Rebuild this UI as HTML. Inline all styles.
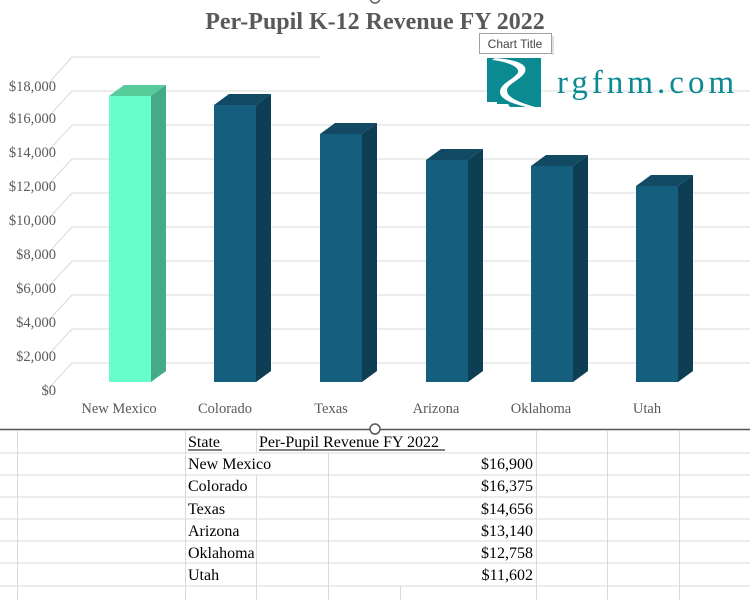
<!DOCTYPE html>
<html><head><meta charset="utf-8"><style>
body{margin:0;background:#fff;}
svg{display:block;}
</style></head><body>
<svg width="750" height="600" viewBox="0 0 750 600" xmlns="http://www.w3.org/2000/svg" font-family="'Liberation Serif', serif">
<rect width="750" height="600" fill="#fff"/>
<g stroke="#d9d9d9" stroke-width="1" fill="none">
<path d="M47 390 L72 363 L750 363"/>
<path d="M47 356 L72 329 L750 329"/>
<path d="M47 322 L72 295 L750 295"/>
<path d="M47 288 L72 261 L750 261"/>
<path d="M47 254 L72 227 L750 227"/>
<path d="M47 220 L72 193 L750 193"/>
<path d="M47 186 L72 159 L750 159"/>
<path d="M47 152 L72 125 L750 125"/>
<path d="M47 118 L72 91 L750 91"/>
<path d="M47 85 L72 57 L320 57"/>
</g>
<g font-size="14.5" fill="#595959" text-anchor="end">
<text x="56" y="395">$0</text>
<text x="56" y="361">$2,000</text>
<text x="56" y="327">$4,000</text>
<text x="56" y="293">$6,000</text>
<text x="56" y="259">$8,000</text>
<text x="56" y="225">$10,000</text>
<text x="56" y="191">$12,000</text>
<text x="56" y="157">$14,000</text>
<text x="56" y="123">$16,000</text>
<text x="56" y="91">$18,000</text>
</g>
<g>
<polygon points="109,96 124,85 166,85 151,96" fill="#55cc99"/>
<polygon points="151,96 166,85 166,371 151,382" fill="#44aa88"/>
<rect x="109" y="96" width="42" height="286" fill="#66ffcc"/>
<polygon points="214,105 229,94 271,94 256,105" fill="#124a64"/>
<polygon points="256,105 271,94 271,371 256,382" fill="#0e3e54"/>
<rect x="214" y="105" width="42" height="277" fill="#165e7e"/>
<polygon points="320,134 335,123 377,123 362,134" fill="#124a64"/>
<polygon points="362,134 377,123 377,371 362,382" fill="#0e3e54"/>
<rect x="320" y="134" width="42" height="248" fill="#165e7e"/>
<polygon points="426,160 441,149 483,149 468,160" fill="#124a64"/>
<polygon points="468,160 483,149 483,371 468,382" fill="#0e3e54"/>
<rect x="426" y="160" width="42" height="222" fill="#165e7e"/>
<polygon points="531,166 546,155 588,155 573,166" fill="#124a64"/>
<polygon points="573,166 588,155 588,371 573,382" fill="#0e3e54"/>
<rect x="531" y="166" width="42" height="216" fill="#165e7e"/>
<polygon points="636,186 651,175 693,175 678,186" fill="#124a64"/>
<polygon points="678,186 693,175 693,371 678,382" fill="#0e3e54"/>
<rect x="636" y="186" width="42" height="196" fill="#165e7e"/>
</g>
<g font-size="14.5" fill="#595959" text-anchor="middle">
<text x="119" y="413">New Mexico</text>
<text x="225" y="413">Colorado</text>
<text x="331" y="413">Texas</text>
<text x="436" y="413">Arizona</text>
<text x="541" y="413">Oklahoma</text>
<text x="647" y="413">Utah</text>
</g>
<text x="375" y="29" font-size="24" font-weight="bold" fill="#595959" text-anchor="middle">Per-Pupil K-12 Revenue FY 2022</text>
<circle cx="375" cy="-2" r="5" fill="#fff" stroke="#666" stroke-width="1.5"/>
<rect x="479.5" y="33.5" width="72" height="20" fill="#fff" stroke="#a0a0a0"/>
<rect x="552" y="36" width="2" height="19" fill="#e0e0e0"/>
<text x="515" y="48" font-family="'Liberation Sans', sans-serif" font-size="12" fill="#444" text-anchor="middle">Chart Title</text>
<path d="M487 58 L541 58 L541 107 L510 107 L508 104 L497 104 L497 102 L487 102 Z" fill="#0b8a92"/>
<path d="M495 58 C520 60 532 66 522 76 C513 84 504 86 508 94 C512 100 525 104 535 107 L526 107 C515 104 500 100 500 92 C500 84 512 80 517 74 C522 68 510 62 492 60 Z" fill="#fff"/>
<text x="557" y="93" font-size="33" fill="#0b8a92" letter-spacing="4">rgfnm.com</text>
<line x1="0" y1="429.5" x2="750" y2="429.5" stroke="#555" stroke-width="1.5"/>
<circle cx="375" cy="429" r="5" fill="#fff" stroke="#555" stroke-width="1.5"/>
<g stroke="#dadada" stroke-width="1">
<line x1="0" y1="453" x2="750" y2="453"/>
<line x1="0" y1="475" x2="750" y2="475"/>
<line x1="0" y1="497" x2="750" y2="497"/>
<line x1="0" y1="519" x2="750" y2="519"/>
<line x1="0" y1="541" x2="750" y2="541"/>
<line x1="0" y1="563" x2="750" y2="563"/>
<line x1="0" y1="586" x2="750" y2="586"/>
<line x1="17.5" y1="431" x2="17.5" y2="600"/>
<line x1="185.5" y1="431" x2="185.5" y2="600"/>
<line x1="256.5" y1="431" x2="256.5" y2="453"/>
<line x1="256.5" y1="475" x2="256.5" y2="600"/>
<line x1="328.5" y1="453" x2="328.5" y2="600"/>
<line x1="400.5" y1="586" x2="400.5" y2="600"/>
<line x1="536.5" y1="431" x2="536.5" y2="600"/>
<line x1="607.5" y1="431" x2="607.5" y2="600"/>
<line x1="679.5" y1="431" x2="679.5" y2="600"/>
</g>
<g font-size="16" fill="#000">
<text x="188" y="447">State</text>
<line x1="188" y1="450" x2="222" y2="450" stroke="#000"/>
<text x="259" y="447">Per-Pupil Revenue FY 2022</text>
<line x1="259" y1="450" x2="445" y2="450" stroke="#000"/>
<text x="188" y="469">New Mexico</text>
<text x="188" y="491">Colorado</text>
<text x="188" y="514">Texas</text>
<text x="188" y="536">Arizona</text>
<text x="188" y="558">Oklahoma</text>
<text x="188" y="580">Utah</text>
<g text-anchor="end">
<text x="533" y="469">$16,900</text>
<text x="533" y="491">$16,375</text>
<text x="533" y="514">$14,656</text>
<text x="533" y="536">$13,140</text>
<text x="533" y="558">$12,758</text>
<text x="533" y="580">$11,602</text>
</g>
</g>
</svg>
</body></html>
